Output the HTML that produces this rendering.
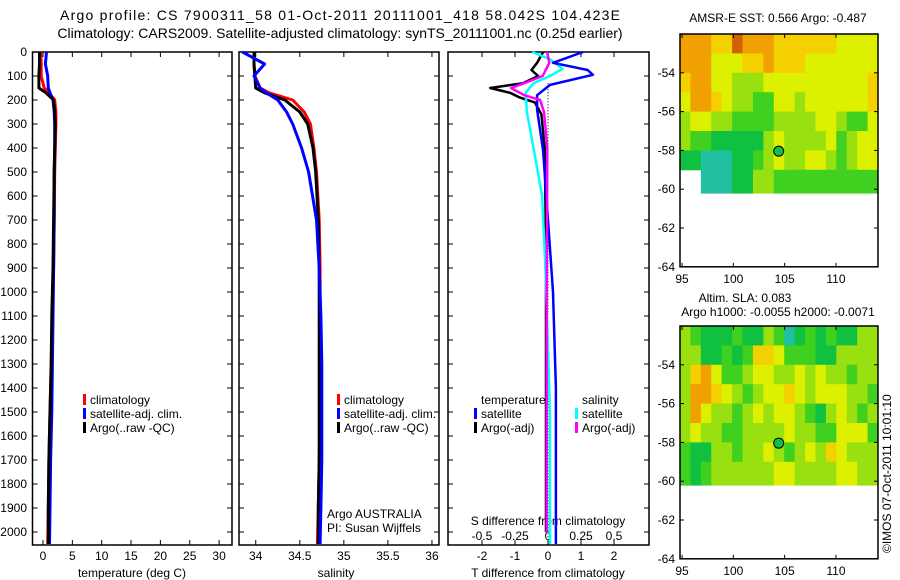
<!DOCTYPE html>
<html><head><meta charset="utf-8">
<style>
html,body{margin:0;padding:0;background:#fff;}
svg{display:block;font-family:"Liberation Sans",sans-serif;}
</style></head>
<body>
<svg id="fig" width="900" height="580" viewBox="0 0 900 580" xmlns="http://www.w3.org/2000/svg">
<text x="340" y="20" font-size="14" text-anchor="middle" textLength="560">Argo profile: CS 7900311_58 01-Oct-2011 20111001_418 58.042S 104.423E</text>
<text x="340" y="38" font-size="14" text-anchor="middle">Climatology: CARS2009. Satellite-adjusted climatology: synTS_20111001.nc (0.25d earlier)</text>
<g id="layer"></g>
</svg>
<script>
// ---- profile data ----
const depths=[0,50,100,150,170,200,250,300,400,500,700,900,1100,1300,1500,1700,1900,2050];
const tClim=[-0.4,-0.3,-0.3,0.2,1.0,2.0,2.2,2.2,2.1,2.0,1.9,1.8,1.6,1.4,1.2,1.0,0.9,0.8];
const tSat=[0.6,0.4,0.8,0.9,1.2,1.7,1.9,2.0,2.0,1.9,1.9,1.8,1.7,1.6,1.5,1.3,1.2,1.1];
const tArgo=[-0.6,-0.6,-0.7,-0.7,0.5,1.8,2.0,2.1,2.0,1.9,1.8,1.7,1.5,1.4,1.2,1.0,0.9,0.9];
const sClim=[33.98,33.98,33.99,34.05,34.15,34.42,34.55,34.62,34.66,34.69,34.72,34.73,34.73,34.73,34.73,34.72,34.71,34.70];
const sSat=[33.85,34.1,33.98,34.05,34.12,34.25,34.35,34.42,34.52,34.6,34.69,34.72,34.74,34.75,34.75,34.75,34.74,34.73];
const sArgo=[33.98,33.98,33.99,34.0,34.1,34.33,34.5,34.59,34.65,34.68,34.71,34.72,34.72,34.72,34.72,34.72,34.71,34.71];
// difference panel
const dBlueDepth=[0,45,75,95,137,180,240,410,700,1000,1400,2050];
const dBlueT=[1.06,0.15,1.2,1.36,0.06,-0.33,-0.33,-0.15,0.0,0.15,0.24,0.24];
const dBlackDepth=[0,45,75,100,130,150,170,190,210,260,400,800,1400,2000];
const dBlackT=[-0.15,-0.33,-0.5,-0.3,-0.76,-1.75,-1.15,-0.85,-0.4,-0.2,-0.1,-0.06,-0.06,-0.06];
const dCyanDepth=[0,30,70,100,130,170,250,400,600,900,1500,2050];
const dCyanS=[-0.12,0.015,0.11,0.015,-0.11,-0.17,-0.16,-0.11,-0.045,-0.02,0.015,0.015];
const dMagDepth=[0,45,100,130,150,180,200,250,400,1000,2000];
const dMagS=[-0.007,0.01,-0.04,-0.18,-0.28,-0.18,-0.06,-0.03,-0.005,-0.01,-0.01];
const depthTicks=[0,100,200,300,400,500,600,700,800,900,1000,1100,1200,1300,1400,1500,1600,1700,1800,1900,2000];
const tTicks=[0,5,10,15,20,25,30];
const sTicks=[34,34.5,35,35.5,36];
const sTickLabels=["34","34.5","35","35.5","36"];
const dTTicks=[-2,-1,0,1,2];
const dSTicks=[-0.5,-0.25,0,0.25,0.5];
const dSTickLabels=["-0.5","-0.25","0","0.25","0.5"];
// ---- map data (colour class per 1-deg cell; '.' = no data) ----
const sstRows=[
"6665576665555554444",
"6664445565554444444",
"5664433344444444445",
"4665433224434444445",
"3443322223333443224",
"3221111134333342344",
"1100011234334432344",
"..00011332222222222"];
const slaRows=[
"3211121132012121133",
"3311212554222113333",
"3564223443343433233",
"3665432344543444332",
"3643323434432134323",
"3433223333433224442",
"2113323343234354333",
"2123333334433334433"];
const palette=["#20c0a0","#10c040","#40d020","#98e010","#dcf000","#f4d000","#f0a000","#d06000"];

const NS="http://www.w3.org/2000/svg";
const layer=document.getElementById('layer');
function mk(tag,attrs,parent){const e=document.createElementNS(NS,tag);for(const k in attrs)e.setAttribute(k,attrs[k]);(parent||layer).appendChild(e);return e;}
function txt(x,y,s,size,anchor,parent){const t=mk('text',{x:x,y:y,'font-size':size,'text-anchor':anchor||'start'},parent);t.textContent=s;return t;}

const yTop=52,yBot=545;
function yD(d){return yTop+d*0.24;}
const panels=[
 {name:'temperature-panel',x0:32.5,x1:232,xmin:-1.79,xmax:32.2},
 {name:'salinity-panel',x0:239,x1:439,xmin:33.81,xmax:36.08},
 {name:'difference-panel',x0:448,x1:649,xmin:-3.03,xmax:3.06}
];
function xf(p){return v=>p.x0+(v-p.xmin)/(p.xmax-p.xmin)*(p.x1-p.x0);}
const fx=panels.map(xf);
function xS(v){return fx[2](v*4);}

depthTicks.forEach(d=>{const t=txt(27,yD(d)+4,String(d),12,'end');

});

panels.forEach((p,i)=>{
 const g=mk('g',{});
 
 
 const r=mk('rect',{x:p.x0,y:yTop,width:p.x1-p.x0,height:yBot-yTop,fill:'none',stroke:'#000','stroke-width':1.5},g);
 
 
 depthTicks.forEach(d=>{mk('line',{x1:p.x0,x2:p.x0+5,y1:yD(d),y2:yD(d),stroke:'#000'},g);mk('line',{x1:p.x1,x2:p.x1-5,y1:yD(d),y2:yD(d),stroke:'#000'},g);});
});

function xticks(pi,vals,labels,y){vals.forEach((v,k)=>{const x=fx[pi](v);
 mk('line',{x1:x,x2:x,y1:yTop,y2:yTop+5,stroke:'#000'});mk('line',{x1:x,x2:x,y1:yBot,y2:yBot-5,stroke:'#000'});
 const t=txt(x,y,labels[k],12,'middle');
 
 });}
xticks(0,tTicks,tTicks.map(String),560);
xticks(1,sTicks,sTickLabels,560);
xticks(2,dTTicks,dTTicks.map(String),560);
dSTicks.forEach((v,k)=>{const t=txt(xS(v),540,dSTickLabels[k],12,'middle');
 
 });

let t;
t=txt(132,577,'temperature (deg C)',12,'middle');
t=txt(336,577,'salinity',12,'middle');
t=txt(548,577,'T difference from climatology',12,'middle');
t=txt(548,525,'S difference from climatology',12,'middle');

mk('line',{x1:fx[2](0),x2:fx[2](0),y1:yD(130),y2:yD(2050),stroke:'#000','stroke-dasharray':'1,2','stroke-width':1});

function series(xfun,ds,vs,color,w,name){
 const pts=ds.map((d,k)=>xfun(vs[k]).toFixed(1)+','+yD(d).toFixed(1)).join(' ');
 const pl=mk('polyline',{points:pts,fill:'none',stroke:color,'stroke-width':w,'stroke-linejoin':'round'});
 
 
}
series(fx[0],depths,tClim,'#f00',3,'temp-climatology-line');
series(fx[0],depths,tSat,'#00f',3,'temp-satellite-line');
series(fx[0],depths,tArgo,'#000',3,'temp-argo-line');
series(fx[1],depths,sClim,'#f00',3,'sal-climatology-line');
series(fx[1],depths,sArgo,'#000',3,'sal-argo-line');
series(fx[1],depths,sSat,'#00f',3,'sal-satellite-line');
series(fx[2],dBlackDepth,dBlackT,'#000',2.5,'tdiff-argo-line');
series(xS,dCyanDepth,dCyanS,'#0ff',2.5,'sdiff-satellite-line');
series(fx[2],dBlueDepth,dBlueT,'#00f',2.5,'tdiff-satellite-line');
series(xS,dMagDepth,dMagS,'#f0f',2.5,'sdiff-argo-line');

function legend(x,y,items,name){const g=mk('g',{});
 
 
 items.forEach((it,k)=>{const yy=y+k*14;
  if(it[0])mk('rect',{x:x,y:yy-10,width:3,height:11,fill:it[0]},g);
  txt(x+7,yy,it[1],12,'start',g);});}
legend(83,404,[['#f00','climatology'],['#00f','satellite-adj. clim.'],['#000','Argo(..raw -QC)']],'temp-legend');
legend(337,404,[['#f00','climatology'],['#00f','satellite-adj. clim.'],['#000','Argo(..raw -QC)']],'sal-legend');
legend(474,404,[[null,'temperature'],['#00f','satellite'],['#000','Argo(-adj)']],'tdiff-legend');
legend(575,404,[[null,'salinity'],['#0ff','satellite'],['#f0f','Argo(-adj)']],'sdiff-legend');
t=txt(327,518,'Argo AUSTRALIA',12);
t=txt(327,532,'PI: Susan Wijffels',12);

function drawMap(rows,top,name){
 const x0=680,x1=878,lonMin=94.8,lonMax=114.1,latTop=-52,latBot=-64;
 const bot=top+(latTop-latBot)*19.4;
 const lx=v=>x0+(v-lonMin)/(lonMax-lonMin)*(x1-x0);
 const ly=v=>top+(latTop-v)*19.4;
 const g=mk('g',{});
 
 
 const cw=(lonMax-lonMin)/19;
 rows.forEach((row,r)=>{for(let c=0;c<row.length;c++){const ch=row[c];if(ch==='.')continue;
  const la0=latTop-r, la1=(r===rows.length-1)?-60.2:latTop-r-1;
  const cell=mk('rect',{x:lx(lonMin+c*cw),y:ly(la0),width:lx(lonMin+(c+1)*cw)-lx(lonMin+c*cw)+0.5,height:ly(la1)-ly(la0)+0.5,fill:palette[+ch]},g);
  
  }});
 const fr=mk('rect',{x:x0,y:top,width:x1-x0,height:bot-top,fill:'none',stroke:'#000','stroke-width':1.5},g);
 
 
 [95,100,105,110].forEach(v=>{mk('line',{x1:lx(v),x2:lx(v),y1:top,y2:top+4,stroke:'#000'},g);mk('line',{x1:lx(v),x2:lx(v),y1:bot,y2:bot-4,stroke:'#000'},g);
  const tl=txt(lx(v),bot+16,String(v),12,'middle',g);
  
  });
 [-54,-56,-58,-60,-62,-64].forEach(v=>{mk('line',{x1:x1,x2:x1-4,y1:ly(v),y2:ly(v),stroke:'#000'},g);mk('line',{x1:x0,x2:x0+4,y1:ly(v),y2:ly(v),stroke:'#000'},g);
  const tl=txt(x0-5,ly(v)+4,String(v),12,'end',g);
  
  });
 const m=mk('circle',{cx:lx(104.42),cy:ly(-58.04),r:5,fill:'#10c040',stroke:'#000','stroke-width':1},g);
 
 
}
drawMap(sstRows,34,'sst-map');
drawMap(slaRows,326,'sla-map');
t=txt(778,22,'AMSR-E SST: 0.566 Argo: -0.487',12,'middle');
t=txt(745,302,'Altim. SLA: 0.083',12,'middle');
t=txt(778,316,'Argo h1000: -0.0055 h2000: -0.0071',12,'middle');
t=txt(0,0,'©IMOS 07-Oct-2011 10:01:10',12,'start');
t.setAttribute('transform','translate(891,553) rotate(-90)');


</script>
</body></html>
